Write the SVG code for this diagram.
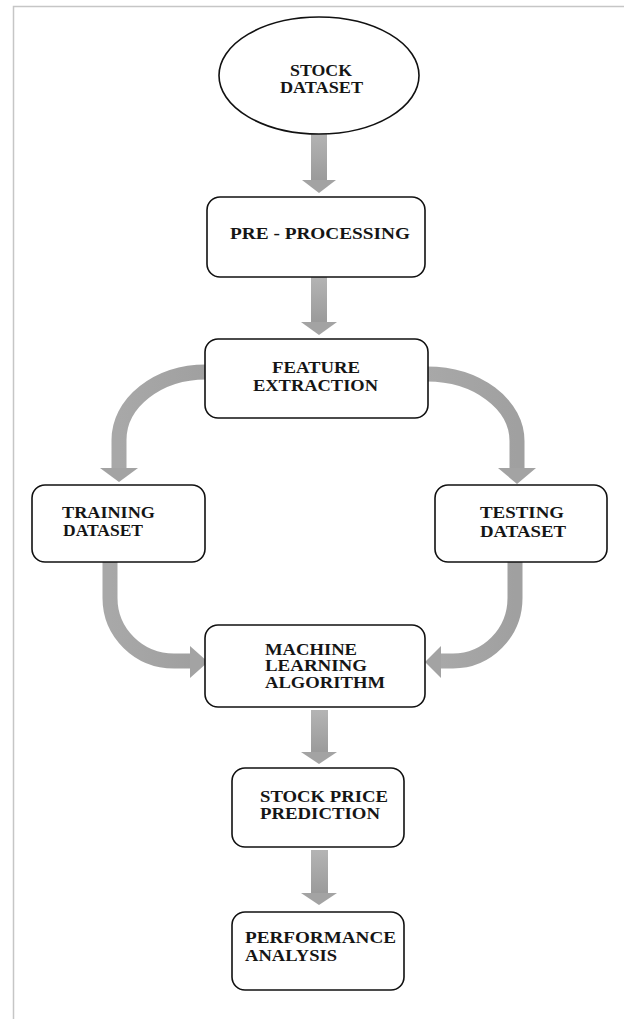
<svg xmlns="http://www.w3.org/2000/svg" width="624" height="1019" viewBox="0 0 624 1019">
<style>
.box{fill:#fff;stroke:#111;stroke-width:1.6}
.t{font-family:"Liberation Serif","Times New Roman",serif;font-weight:bold;font-size:16px;fill:#151515}
.curve{fill:none;stroke:url(#cg);stroke-width:15}
.head{fill:#a3a3a3}
.frame{stroke:#c6c6c6;stroke-width:1.5;fill:none}
</style>
<defs>
<linearGradient id="vg" x1="0" y1="0" x2="0" y2="1">
<stop offset="0" stop-color="#b4b4b4"/>
<stop offset="1" stop-color="#9a9a9a"/>
</linearGradient>
<linearGradient id="cg" x1="0" y1="0" x2="1" y2="0">
<stop offset="0" stop-color="#a8a8a8"/>
<stop offset="1" stop-color="#a0a0a0"/>
</linearGradient>
</defs>
<rect width="624" height="1019" fill="#fff"/>
<path class="frame" d="M13.5,1019 V6.5 H624"/>

<g id="connectors">
<g id="a1"><rect x="311" y="133" width="16" height="48" fill="url(#vg)"/><polygon class="head" points="302,180 336,180 319,193"/></g>
<g id="a2"><rect x="311" y="277" width="16" height="46" fill="url(#vg)"/><polygon class="head" points="301,322 337,322 319,335"/></g>
<g id="a3"><path class="curve" d="M206,372 A87,68 0 0 0 119,440 L119,469"/><polygon class="head" points="100,468 138,468 119,482"/></g>
<g id="a4"><path class="curve" d="M427,374 A90,67 0 0 1 517,441 L517,469"/><polygon class="head" points="498,468 536,468 517,484"/></g>
<g id="a5"><path class="curve" d="M110,562 L110,598 A64,63 0 0 0 174,661 L191,661"/><polygon class="head" points="190,646 190,678 208,662"/></g>
<g id="a6"><path class="curve" d="M515,562 L515,598 A62,63 0 0 1 453,661 L441,661"/><polygon class="head" points="441,646 441,678 425,662"/></g>
<g id="a7"><rect x="311" y="710" width="17" height="43" fill="url(#vg)"/><polygon class="head" points="301,752 337,752 319,764"/></g>
<g id="a8"><rect x="311" y="850" width="17" height="44" fill="url(#vg)"/><polygon class="head" points="301,893 337,893 319,905"/></g>
</g>

<g id="stock-dataset">
<ellipse class="box" cx="319" cy="75.5" rx="100" ry="58.5"/>
<text class="t" x="290" y="76" textLength="62" lengthAdjust="spacingAndGlyphs">STOCK</text>
<text class="t" x="280" y="93" textLength="83" lengthAdjust="spacingAndGlyphs">DATASET</text>
</g>

<g id="pre-processing">
<rect class="box" x="207" y="197" width="218" height="80" rx="13"/>
<text class="t" x="230" y="239" textLength="180" lengthAdjust="spacingAndGlyphs">PRE - PROCESSING</text>
</g>

<g id="feature-extraction">
<rect class="box" x="205" y="339" width="223" height="79" rx="13"/>
<text class="t" x="272" y="373" textLength="88" lengthAdjust="spacingAndGlyphs">FEATURE</text>
<text class="t" x="253" y="391" textLength="125" lengthAdjust="spacingAndGlyphs">EXTRACTION</text>
</g>

<g id="training-dataset">
<rect class="box" x="32" y="485" width="173" height="77" rx="13"/>
<text class="t" x="62" y="518" textLength="93" lengthAdjust="spacingAndGlyphs">TRAINING</text>
<text class="t" x="63" y="536" textLength="80" lengthAdjust="spacingAndGlyphs">DATASET</text>
</g>

<g id="testing-dataset">
<rect class="box" x="435" y="485" width="172" height="77" rx="13"/>
<text class="t" x="480" y="518" textLength="84" lengthAdjust="spacingAndGlyphs">TESTING</text>
<text class="t" x="480" y="537" textLength="86" lengthAdjust="spacingAndGlyphs">DATASET</text>
</g>

<g id="machine-learning">
<rect class="box" x="205" y="625" width="220" height="82" rx="13"/>
<text class="t" x="265" y="655" textLength="92" lengthAdjust="spacingAndGlyphs">MACHINE</text>
<text class="t" x="265" y="671" textLength="102" lengthAdjust="spacingAndGlyphs">LEARNING</text>
<text class="t" x="265" y="688" textLength="120" lengthAdjust="spacingAndGlyphs">ALGORITHM</text>
</g>

<g id="stock-price-prediction">
<rect class="box" x="232" y="768" width="172" height="79" rx="13"/>
<text class="t" x="260" y="802" textLength="128" lengthAdjust="spacingAndGlyphs">STOCK PRICE</text>
<text class="t" x="260" y="819" textLength="120" lengthAdjust="spacingAndGlyphs">PREDICTION</text>
</g>

<g id="performance-analysis">
<rect class="box" x="232" y="912" width="172" height="78" rx="13"/>
<text class="t" x="245" y="943" textLength="151" lengthAdjust="spacingAndGlyphs">PERFORMANCE</text>
<text class="t" x="245" y="961" textLength="92" lengthAdjust="spacingAndGlyphs">ANALYSIS</text>
</g>
</svg>
